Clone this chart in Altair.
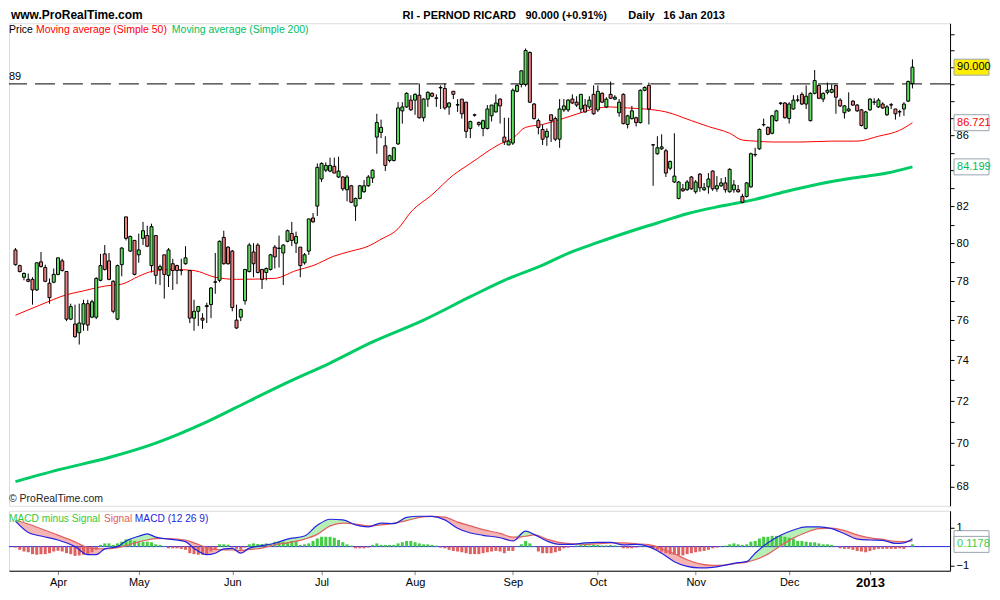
import altair as alt
import pandas as pd

# ---------------- data ----------------
opens = [79.65, 78.82, 78.21, 78.10, 78.10, 77.55, 79.02, 78.72, 77.90, 77.95,
         78.36, 79.07, 78.51, 76.05, 75.80, 75.36, 75.80, 76.84, 76.15, 76.15,
         78.05, 79.44, 79.07, 78.00, 76.05, 78.87, 81.43, 79.59, 80.16, 79.39,
         80.27, 80.42, 78.82, 80.42, 78.62, 79.39, 78.31, 78.92, 78.82, 78.58,
         78.92, 78.56, 76.10, 76.45, 76.10, 76.69, 76.79, 77.95, 78.05, 80.32,
         79.80, 79.59, 76.00, 76.15, 76.99,
         78.51, 79.54, 79.91, 78.62, 78.46, 78.62, 79.80, 79.73, 79.49, 80.11,
         80.53, 80.01, 79.80, 78.97, 79.59, 81.37, 82.02, 83.52, 84.01, 83.96,
         84.23, 83.63, 83.63, 82.92, 83.14, 82.02, 82.44, 82.81, 83.14, 83.57,
         85.89, 86.16, 85.39, 84.56, 84.56, 85.50, 87.41, 87.64, 88.04, 88.04,
         88.33, 87.01, 88.10, 88.44, 88.17, 88.79, 88.73, 87.64, 88.56, 87.77,
         88.10, 87.92, 86.39,
         87.18, 86.73, 86.39, 86.39, 87.12, 87.35, 88.10, 85.89, 85.44, 85.55,
         88.56, 88.97, 88.97, 90.89, 87.81, 86.84, 86.33, 85.89, 87.18, 86.96,
         85.77, 87.47, 87.47, 88.10, 87.92, 87.52, 87.75, 87.64, 88.38, 87.47,
         88.44, 87.64, 88.38, 88.10, 87.30, 88.38, 86.62, 86.96, 87.01, 86.73,
         88.62, 88.91, 85.45, 84.94, 85.22, 85.11, 84.12, 83.35, 82.44, 82.97,
         82.92, 83.63, 82.81,
         83.79, 82.92, 83.08, 83.96, 82.97, 83.14, 83.30, 82.81, 82.92, 82.92,
         82.55, 82.55, 83.08, 84.90, 85.22, 86.60, 86.45, 86.11, 86.84, 87.85,
         87.87, 86.96, 87.52, 88.05, 88.38, 87.81, 86.84, 88.44, 88.91, 88.10,
         88.50, 88.50, 88.91, 88.04, 87.30, 87.41, 87.98, 87.75, 87.47, 86.39,
         87.47, 87.93, 87.64, 87.81, 87.18, 87.77, 87.52, 87.36, 87.52, 87.98, 89.02]
highs = [79.75, 78.87, 78.46, 78.41, 78.21, 78.97, 79.54, 78.87, 78.15, 78.67,
         79.23, 79.18, 78.51, 76.84, 76.79, 76.84, 77.04, 77.04, 77.04, 78.21,
         79.44, 79.91, 79.49, 78.05, 78.87, 79.80, 81.43, 80.42, 80.16, 80.53,
         81.16, 80.95, 81.06, 80.42, 78.87, 79.39, 79.75, 79.18, 78.87, 79.18,
         79.85, 78.56, 77.04, 76.69, 76.35, 76.89, 77.70, 79.49, 80.16, 80.68,
         79.85, 79.65, 76.79, 76.59, 78.62,
         80.01, 80.01, 80.01, 78.62, 78.72, 79.44, 79.91, 80.42, 79.96, 80.74,
         81.16, 80.63, 79.80, 79.49, 81.32, 81.64, 84.39, 84.45, 84.45, 84.72,
         84.72, 84.77, 83.68, 83.74, 83.19, 82.49, 83.19, 83.46, 83.74, 84.06,
         87.24, 86.90, 85.94, 84.89, 85.33, 87.92, 87.92, 88.50, 88.33, 88.44,
         89.02, 88.15, 88.56, 88.50, 88.38, 88.91, 89.02, 87.92, 88.56, 88.10,
         88.10, 87.92, 86.84,
         87.24, 86.79, 86.90, 87.75, 87.75, 88.38, 88.15, 87.01, 87.01, 88.73,
         88.97, 89.83, 91.13, 90.95, 87.87, 86.96, 86.62, 86.39, 87.18, 87.07,
         88.10, 88.10, 88.10, 88.38, 88.27, 88.38, 88.10, 88.27, 88.91, 88.91,
         88.50, 88.21, 89.14, 88.33, 88.10, 88.44, 87.18, 87.70, 87.07, 88.67,
         88.85, 89.08, 85.50, 85.94, 86.05, 85.22, 84.56, 86.11, 83.41, 83.24,
         83.46, 83.68, 83.46,
         83.85, 83.30, 83.85, 84.01, 83.68, 83.57, 83.63, 84.12, 83.46, 83.19,
         82.70, 83.35, 85.00, 85.28, 86.39, 86.96, 86.50, 87.18, 87.47, 87.92,
         87.92, 87.92, 88.33, 88.33, 88.50, 88.91, 88.50, 89.83, 88.97, 88.50,
         89.08, 88.97, 88.91, 88.15, 87.75, 88.50, 88.04, 87.81, 87.52, 87.41,
         88.15, 88.15, 88.15, 87.92, 87.75, 87.87, 87.52, 87.47, 87.92, 89.20, 90.47]
lows = [78.82, 78.46, 78.05, 77.95, 76.79, 77.50, 78.72, 77.95, 76.84, 77.90,
        78.31, 78.51, 75.95, 76.00, 75.11, 74.77, 75.46, 75.46, 76.10, 76.05,
        78.00, 78.56, 78.05, 76.35, 76.00, 78.26, 80.16, 79.54, 78.31, 78.97,
        79.91, 79.80, 78.46, 77.85, 77.80, 77.10, 77.70, 77.55, 77.85, 78.31,
        78.87, 75.85, 75.46, 75.70, 75.56, 75.85, 76.10, 77.35, 77.95, 78.87,
        78.87, 76.45, 75.56, 75.95, 76.79,
        78.46, 78.21, 78.41, 77.60, 78.05, 78.56, 78.67, 78.72, 77.80, 80.06,
        79.85, 79.49, 78.21, 78.87, 79.39, 81.11, 81.48, 83.35, 83.90, 83.90,
        83.85, 83.57, 82.86, 82.28, 82.18, 81.21, 82.39, 82.76, 83.08, 83.30,
        84.94, 85.83, 83.96, 84.45, 84.50, 85.44, 86.67, 87.58, 87.41, 87.18,
        86.96, 86.79, 87.64, 88.21, 87.64, 87.52, 87.47, 87.18, 88.10, 87.35,
        86.96, 85.83, 85.83,
        87.07, 86.50, 85.94, 86.33, 86.79, 87.30, 86.67, 85.44, 85.44, 85.44,
        88.50, 88.79, 88.85, 87.87, 86.90, 86.05, 85.44, 85.39, 85.61, 85.66,
        85.28, 87.35, 87.35, 87.81, 87.64, 87.30, 87.30, 87.52, 87.18, 87.35,
        87.87, 87.58, 88.10, 88.04, 87.07, 86.62, 86.39, 86.90, 86.50, 86.67,
        88.56, 86.62, 83.14, 84.89, 85.16, 83.63, 84.01, 83.30, 82.39, 82.81,
        82.86, 82.92, 82.70,
        82.81, 82.86, 82.70, 82.86, 82.81, 83.08, 82.76, 82.76, 82.76, 82.76,
        82.18, 82.49, 83.03, 84.77, 85.16, 86.50, 86.00, 86.05, 86.79, 87.75,
        86.96, 86.67, 87.47, 87.92, 87.75, 87.52, 86.79, 88.38, 88.10, 87.92,
        88.38, 88.44, 87.24, 87.64, 86.96, 87.35, 87.70, 87.35, 86.50, 86.33,
        87.41, 87.75, 87.58, 87.52, 87.12, 87.52, 86.90, 87.07, 87.12, 87.92, 88.73]
closes = [78.87, 78.51, 78.41, 78.00, 77.55, 78.97, 78.77, 78.00, 77.15, 78.36,
          79.23, 78.56, 76.05, 76.69, 75.16, 75.85, 76.84, 75.75, 76.94, 78.15,
          78.82, 78.62, 78.10, 76.45, 78.82, 79.75, 80.27, 80.37, 78.36, 79.65,
          80.68, 79.85, 80.90, 78.31, 78.77, 78.36, 79.65, 78.56, 78.56, 78.56,
          79.23, 76.10, 76.45, 76.69, 76.00, 76.74, 77.65, 77.97, 80.11, 78.92,
          78.92, 76.64, 75.60, 76.54, 78.62,
          79.91, 78.92, 78.46, 78.10, 78.67, 79.39, 79.28, 79.75, 79.91, 80.68,
          80.16, 80.37, 78.82, 79.39, 81.32, 81.16, 84.17, 84.39, 84.28, 84.28,
          83.85, 83.96, 82.97, 83.63, 82.23, 82.44, 83.14, 83.14, 83.63, 84.01,
          86.73, 86.45, 84.28, 84.83, 85.28, 87.58, 87.64, 88.44, 87.47, 88.38,
          87.01, 88.10, 88.50, 88.27, 88.15, 88.76, 87.58, 87.87, 88.38, 87.75,
          87.24, 86.22, 86.79,
          87.16, 86.62, 86.84, 87.52, 87.75, 87.87, 87.70, 85.61, 85.66, 88.62,
          88.91, 89.78, 91.01, 87.92, 86.96, 86.45, 85.77, 86.22, 86.84, 85.77,
          87.52, 87.70, 88.04, 87.87, 87.75, 88.38, 87.35, 88.04, 87.24, 88.56,
          87.92, 88.10, 88.15, 88.21, 87.92, 86.67, 87.12, 87.41, 86.73, 88.62,
          88.79, 87.52, 85.44, 85.28, 85.33, 83.85, 84.50, 83.68, 83.35, 82.86,
          83.35, 82.97, 83.35,
          83.03, 83.03, 83.52, 82.97, 83.14, 83.30, 82.92, 84.06, 83.19, 82.81,
          82.23, 83.30, 84.94, 84.88, 86.33, 86.62, 86.05, 87.12, 87.41, 87.87,
          87.01, 87.81, 88.04, 88.04, 87.81, 88.27, 88.44, 89.20, 88.15, 88.44,
          88.62, 88.67, 88.21, 87.70, 87.70, 87.52, 87.75, 87.41, 86.56, 87.35,
          88.10, 87.92, 88.04, 87.58, 87.64, 87.75, 87.24, 87.35, 87.81, 89.14, 90.00]

ma50_idx = [0, 6, 12, 16, 21, 25, 29, 32, 37, 42, 47, 52, 61, 66, 70, 75, 79, 83, 86, 90,
            93, 98, 103, 107, 114, 117, 120, 124, 128, 133, 136, 140, 144, 148, 153, 159,
            163, 168, 171, 174, 178, 185, 192, 198, 203, 208, 211]
ma50_val = [76.25, 76.79, 77.30, 77.50, 77.75, 77.85, 78.26, 78.51, 78.62, 78.56,
            78.21, 78.10, 78.15, 78.56, 78.82, 79.33, 79.59, 79.85, 80.22, 80.79,
            81.69, 82.65, 83.74, 84.39, 85.50, 85.83, 86.45, 86.62, 86.90, 87.30,
            87.52, 87.64, 87.58, 87.52, 87.35, 86.84, 86.50, 86.11, 85.72, 85.66,
            85.61, 85.61, 85.66, 85.66, 85.94, 86.28, 86.721]

ma200_idx = [0, 10, 22, 33, 45, 55, 64, 74, 84, 96, 107, 115, 124, 130, 137, 144, 151,
             158, 166, 174, 181, 189, 197, 205, 211]
ma200_val = [68.22, 68.76, 69.33, 70.0, 71.0, 72.0, 72.9, 73.85, 74.9, 76.0, 77.2, 78.05,
             78.84, 79.47, 80.05, 80.6, 81.1, 81.6, 82.02, 82.39, 82.81, 83.24, 83.57,
             83.85, 84.199]

macd_idx = [0, 3, 6, 10, 14, 17, 19, 21, 24, 26, 29, 31, 33, 36, 40, 42, 45, 47, 49, 51,
            53, 55, 58, 61, 64, 68, 71, 74, 77, 80, 83, 86, 89, 92, 95, 98, 101, 104, 107,
            110, 114, 117, 120, 122, 125, 128, 131, 134, 137, 140, 143, 146, 149, 152,
            155, 158, 161, 164, 167, 170, 172, 174, 177, 180, 183, 186, 189, 192, 195,
            198, 201, 204, 207, 209, 211]
macd_val = [1.35, 0.75, 0.56, 0.35, 0.0, -0.43, -0.43, -0.12, 0.0, 0.3,
            0.55, 0.68, 0.5, 0.4, 0.26, -0.1, -0.43, -0.35, -0.12, -0.09,
            -0.35, -0.08, 0.05, 0.18, 0.4, 0.56, 1.13, 1.45, 1.42, 1.15,
            1.05, 1.25, 1.22, 1.55, 1.61, 1.6, 1.42, 0.97, 0.72, 0.6,
            0.47, 0.3, 0.82, 0.65, 0.3, 0.12, 0.12, 0.2, 0.22, 0.22,
            0.09, 0.12, 0.0, -0.35, -0.8, -1.05, -1.13, -1.1, -0.98, -0.85,
            -0.8, -0.35, 0.2, 0.6, 0.88, 1.05, 1.05, 0.95, 0.68, 0.4,
            0.35, 0.33, 0.17, 0.2, 0.42]
signal_val = [1.40, 1.2, 0.95, 0.61, 0.25, -0.05, -0.1, -0.12, -0.05, 0.05,
              0.25, 0.35, 0.42, 0.43, 0.35, 0.2, -0.05, -0.15, -0.17, -0.18,
              -0.2, -0.15, -0.08, 0.1, 0.2, 0.4, 0.65, 1.1, 1.25, 1.2,
              1.1, 1.15, 1.25, 1.38, 1.55, 1.6, 1.56, 1.3, 1.1, 0.9,
              0.7, 0.5, 0.55, 0.62, 0.4, 0.22, 0.15, 0.12, 0.15, 0.2,
              0.2, 0.15, 0.1, -0.1, -0.38, -0.7, -0.92, -1.0, -0.98, -0.88,
              -0.82, -0.7, -0.4, 0.05, 0.45, 0.75, 0.95, 0.98, 0.85, 0.62,
              0.46, 0.38, 0.28, 0.27, 0.30]

hist_val = [-0.05, -0.17, -0.26, -0.30, -0.40, -0.43, -0.40, -0.40, -0.35, -0.26,
            -0.22, -0.26, -0.35, -0.40, -0.49, -0.47, -0.43, -0.40, -0.30, -0.17,
            0.09, 0.17, 0.17, 0.09, 0.17, 0.26, 0.38, 0.38, 0.30, 0.23, 0.26, 0.26, 0.23, 0.12, 0.09, 0.03,
            -0.09, -0.09, -0.09, -0.12, -0.17, -0.35, -0.40, -0.43, -0.43, -0.40, -0.26, -0.17,
            0.12, 0.12, 0.10,
            -0.05, -0.12, -0.17, -0.05,
            0.12, 0.17, 0.14, 0.14, 0.17, 0.12, 0.26, 0.26, 0.26, 0.23,
            0.30, 0.30, 0.09, 0.12, 0.17, 0.30, 0.43, 0.52, 0.52, 0.52,
            0.47, 0.35, 0.23, 0.12, 0.05,
            -0.09, -0.09, -0.09, -0.05,
            0.09, 0.17, 0.09, 0.09, 0.09, 0.09, 0.17, 0.23, 0.30, 0.30, 0.23, 0.17, 0.12, 0.12, 0.09, 0.05,
            -0.05, -0.09, -0.17, -0.23, -0.26, -0.30, -0.35, -0.40, -0.40, -0.40,
            -0.35, -0.30, -0.26, -0.23, -0.26, -0.35, -0.23, -0.23,
            0.02, 0.12, 0.30, 0.17, 0.02,
            -0.26, -0.35, -0.35, -0.35, -0.30, -0.23, -0.09, -0.05, -0.02,
            0.06, 0.09, 0.09, 0.06, 0.09, 0.09, 0.06, 0.06, 0.09, 0.06, 0.03,
            -0.09, -0.09, -0.09, -0.05,
            0.03, 0.03,
            -0.05, -0.09, -0.17, -0.26, -0.35, -0.40, -0.43, -0.47, -0.47, -0.40,
            -0.35, -0.30, -0.26, -0.23, -0.17, -0.09, -0.05,
            0.02,
            0.05, 0.12, 0.17, 0.12, 0.09, 0.12, 0.26, 0.30, 0.43, 0.52,
            0.52, 0.57, 0.57, 0.57, 0.52, 0.47, 0.40, 0.30, 0.30, 0.26,
            0.23, 0.23, 0.17, 0.12, 0.12, 0.09,
            -0.02,
            -0.09, -0.12, -0.12, -0.17, -0.23, -0.26, -0.30, -0.23, -0.17, -0.12,
            -0.12, -0.12, -0.12, -0.12, -0.09, -0.12,
            -0.02,
            0.1178]

month_idx = [10, 29, 51, 72, 94, 117, 137, 160, 182, 201]
month_lbl = ["Apr", "May", "Jun", "Jul", "Aug", "Sep", "Oct", "Nov", "Dec", "2013"]
resistance = [89]
price_ticks = list(range(68, 93))
price_labels = [68, 70, 72, 74, 76, 78, 80, 82, 86]
macd_ticks = [-1, 1]

# ---------------- styling ----------------
FONT = "Liberation Sans"
UP = "#5ee05e"
DOWN = "#f08080"
RED = "#ff0000"
GREEN200 = "#00cc66"
BLUE = "#2424e0"
SIGRED = "#e06060"
HISTG = "#44cc44"
BOXSTROKE = "#9aa4ae"

W = 942
H1 = 483
H2 = 60
XDOM = [-0.35, 218.67]
PDOM = [67.13, 92.68]
MDOM = [-1.28, 1.90]

RECT = "M-1,-0.457L1,-0.457L1,0.457L-1,0.457Z"

n = len(closes)
candles = pd.DataFrame({"i": list(range(n)), "open": opens, "high": highs,
                        "low": lows, "close": closes})
ma50_df = pd.DataFrame({"i": ma50_idx, "ma50": ma50_val})
ma200_df = pd.DataFrame({"i": ma200_idx, "ma200": ma200_val})
macd_df = pd.DataFrame({"i": macd_idx, "macd": macd_val, "signal": signal_val})
hist_df = pd.DataFrame({"i": list(range(len(hist_val))), "hist": hist_val,
                        "zero": [0.0] * len(hist_val)})
res_df = pd.DataFrame({"level": resistance})
one = pd.DataFrame({"k": [0]})

pbox_df = pd.DataFrame({
    "v": [closes[-1], ma50_val[-1], ma200_val[-1]],
    "txt": [f"{closes[-1]:.3f}", f"{ma50_val[-1]:.3f}", f"{ma200_val[-1]:.3f}"],
    "fill": ["#ffee00", "white", "white"],
    "tcol": ["black", "#ff0000", "#00bb55"],
})
mbox_back = pd.DataFrame({"v": [macd_val[-1]]})
mbox_df = pd.DataFrame({"v": [hist_val[-1]], "txt": [f"{hist_val[-1]:.4f}"]})

xs = alt.Scale(domain=XDOM, nice=False, zero=False)
ps = alt.Scale(type="log", domain=PDOM, nice=False)
ms = alt.Scale(domain=MDOM, nice=False, zero=False)

lbl_list = "[" + ",".join(str(v) for v in price_labels) + "]"
pax = alt.Axis(orient="right", values=price_ticks, format="d",
               labelExpr=f"indexof({lbl_list}, datum.value) >= 0 ? datum.label : ''",
               tickSize=4, tickColor="black", domainColor="black", labelColor="black",
               labelFontSize=11, labelFont=FONT, labelPadding=2, grid=False,
               labelOverlap=False)
max_ = alt.Axis(orient="right", values=macd_ticks, format="d", tickSize=4,
                tickColor="black", domainColor="black", labelColor="black",
                labelFontSize=11, labelFont=FONT, labelPadding=2, grid=False)
m_names = "[" + ",".join(f"'{m}'" for m in month_lbl) + "]"
m_idx = "[" + ",".join(str(v) for v in month_idx) + "]"
last_tick = month_idx[-1]
xax = alt.Axis(values=month_idx, labelExpr=f"{m_names}[indexof({m_idx}, datum.value)]",
               tickSize=4, tickColor="#888888", domainColor="black", labelColor="black",
               labelFont=FONT, labelPadding=2, grid=False, labelOverlap=False,
               labelFontSize={"condition": {"test": f"datum.value == {last_tick}", "value": 13},
                              "value": 11},
               labelFontWeight={"condition": {"test": f"datum.value == {last_tick}", "value": "bold"},
                                "value": "normal"})


def XP(f="i"):
    return alt.X(f"{f}:Q", scale=xs, axis=None, title=None)


def YP(f):
    return alt.Y(f"{f}:Q", scale=ps, axis=pax, title=None)


def XM(f="i"):
    return alt.X(f"{f}:Q", scale=xs, axis=xax, title=None)


def YM(f):
    return alt.Y(f"{f}:Q", scale=ms, axis=max_, title=None)


def label(txt, x, y, color="black", size=11, weight="normal", baseline="middle"):
    return alt.Chart(one).mark_text(align="left", baseline=baseline, font=FONT,
                                    fontSize=size, fontWeight=weight, color=color).encode(
        x=alt.value(x), y=alt.value(y), text=alt.value(txt))


# ---------------- price panel ----------------
cbase = alt.Chart(candles)
wicks = cbase.mark_rule(color="black", strokeWidth=1, clip=True).encode(
    x=XP(), y=YP("low"), y2="high")
bodies = cbase.mark_bar(width=3, stroke="black", strokeWidth=1, clip=True).encode(
    x=XP(), y=YP("open"), y2="close",
    fill=alt.condition("datum.close >= datum.open", alt.value(UP), alt.value(DOWN)))
dash = alt.Chart(res_df).mark_rule(color="black", strokeWidth=1, strokeDash=[20, 8]).encode(
    y=YP("level"))
lvl_txt = alt.Chart(res_df).mark_text(align="left", baseline="bottom", font=FONT, fontSize=11,
                                      color="black", dy=-2).encode(
    x=alt.value(0), y=YP("level"), text=alt.Text("level:Q", format="d"))
ma50_line = alt.Chart(ma50_df).mark_line(color=RED, strokeWidth=1,
                                         interpolate="monotone").encode(x=XP(), y=YP("ma50"))
ma200_line = alt.Chart(ma200_df).mark_line(color=GREEN200, strokeWidth=3,
                                           interpolate="monotone").encode(
    x=XP(), y=YP("ma200"))
pboxes = alt.Chart(pbox_df).mark_point(shape=RECT, size=35 * 35, filled=True, opacity=1,
                                       stroke=BOXSTROKE, strokeWidth=1).encode(
    x=alt.value(W + 21.5), y=YP("v"), fill=alt.Fill("fill:N", scale=None))
ptexts = alt.Chart(pbox_df).mark_text(align="left", baseline="middle", font=FONT,
                                      fontSize=11).encode(
    x=alt.value(W + 7), y=YP("v"), text="txt:N", color=alt.Color("tcol:N", scale=None))

price = alt.layer(
    ma200_line, ma50_line, dash, wicks, bodies, lvl_txt, pboxes, ptexts,
    label("Price", 0, 7, size=10.5),
    label("Moving average (Simple 50)", 27, 7, color=RED, size=10.5),
    label("Moving average (Simple 200)", 163, 7, color="#00c060", size=10.5),
    label("\u00a9 ProRealTime.com", 0, H1 - 7, color="#222222", size=10.5),
    label("www.ProRealTime.com", 2, -4, size=12, weight="bold", baseline="alphabetic"),
    label("RI - PERNOD RICARD", 394, -4, size=11, weight="bold", baseline="alphabetic"),
    label("90.000 (+0.91%)", 517, -4, size=11, weight="bold", baseline="alphabetic"),
    label("Daily", 620, -4, size=11, weight="bold", baseline="alphabetic"),
    label("16 Jan 2013", 655, -4, size=11, weight="bold", baseline="alphabetic"),
).properties(width=W, height=H1)

# ---------------- MACD panel ----------------
mbase = alt.Chart(macd_df).transform_calculate(
    gtop="max(datum.macd, datum.signal)", ptop="min(datum.macd, datum.signal)")
g_area = mbase.mark_area(color="#b6f0b6", interpolate="monotone").encode(
    x=XM(), y=YM("gtop"), y2="signal")
p_area = mbase.mark_area(color="#f5b5b5", interpolate="monotone").encode(
    x=XM(), y=YM("ptop"), y2="signal")
hist = alt.Chart(hist_df).mark_bar(width=3).encode(
    x=XM(), y=YM("hist"), y2="zero",
    fill=alt.condition("datum.hist >= 0", alt.value(HISTG), alt.value(SIGRED)))
zero = alt.Chart(hist_df.head(1)).mark_rule(color=BLUE, strokeWidth=1).encode(y=YM("zero"))
sig_line = alt.Chart(macd_df).mark_line(color=SIGRED, strokeWidth=1.2,
                                        interpolate="monotone").encode(
    x=XM(), y=YM("signal"))
macd_line = alt.Chart(macd_df).mark_line(color=BLUE, strokeWidth=1.2,
                                         interpolate="monotone").encode(
    x=XM(), y=YM("macd"))
mback = alt.Chart(mbox_back).mark_point(shape=RECT, size=35 * 35, filled=True, opacity=1,
                                        fill="white", stroke=BOXSTROKE, strokeWidth=1).encode(
    x=alt.value(W + 21.5), y=YM("v"))
mbox = alt.Chart(mbox_df).mark_point(shape=RECT, size=35 * 35, filled=True, opacity=1,
                                     fill="white", stroke=BOXSTROKE, strokeWidth=1).encode(
    x=alt.value(W + 21.5), y=YM("v"))
mtext = alt.Chart(mbox_df).mark_text(align="left", baseline="middle", font=FONT, fontSize=11,
                                     color=HISTG).encode(
    x=alt.value(W + 7), y=YM("v"), text="txt:N")

macd = alt.layer(
    g_area, p_area, zero, hist, sig_line, macd_line, mback, mbox, mtext,
    label("MACD minus Signal", 0, 8, color="#33cc33", size=10.2),
    label("Signal", 95, 8, color=SIGRED, size=10.2),
    label("MACD (12 26 9)", 126, 8, color=BLUE, size=10.2),
).properties(width=W, height=H2)

chart = alt.vconcat(price, macd, spacing=3).resolve_scale(
    x="independent", y="independent"
).properties(padding=0, background="white").configure_view(
    stroke="black", strokeWidth=1
).configure(font=FONT)

chart.save("out.html", embed_options={"renderer": "svg", "actions": False})
